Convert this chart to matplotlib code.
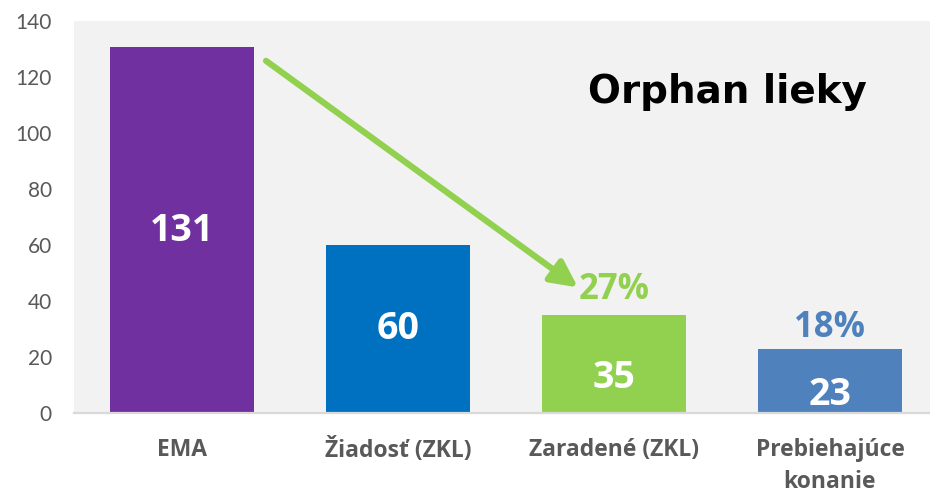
import matplotlib
matplotlib.use("Agg")
import matplotlib.pyplot as plt

# data
categories = ["EMA", "Žiadosť (ZKL)", "Zaradené (ZKL)", "Prebiehajúce\nkonanie"]
counts = [131, 60, 35, 23]
bar_colors = ["#7030A0", "#0070C0", "#92D050", "#4F81BD"]
yticks = [0, 20, 40, 60, 80, 100, 120, 140]
title_text = "Orphan lieky"

# share of the EMA total, shown above the last two bars
shares = [round(c / counts[0] * 100) for c in counts]

# where the in-bar value labels sit (data units) -- placed by hand in the original
value_label_y = [65, 30, 12.5, 6.5]

BOLD = "Open Sans"

fig = plt.figure(figsize=(9.3, 4.92), dpi=100)
ax = fig.add_axes([0.0796, 0.1596, 0.9204, 0.797])
ax.set_facecolor("#F2F2F2")

x = range(len(categories))
ax.bar(x, counts, width=0.667, color=bar_colors, zorder=2)

ax.set_xlim(-0.5, 3.463)
ax.set_ylim(0, 140)
ax.set_yticks(yticks)
ax.set_xticks(list(x))
ax.set_xticklabels(categories, fontfamily=BOLD, fontweight="bold",
                   fontsize=16.5, color="#595959", linespacing=1.4)
for lab in ax.get_yticklabels():
    lab.set_fontfamily("Lato")
    lab.set_fontsize(15)
    lab.set_color("#595959")
ax.tick_params(axis="y", length=0, pad=16)
ax.tick_params(axis="x", length=0, pad=18)

for s in ["top", "right", "left"]:
    ax.spines[s].set_visible(False)
ax.spines["bottom"].set_color("#D9D9D9")
ax.spines["bottom"].set_linewidth(1.6)
ax.spines["bottom"].set_zorder(3)

# values inside the bars
for i, c in enumerate(counts):
    ax.text(i, value_label_y[i], str(c), ha="center", va="center",
            fontfamily=BOLD, fontweight="bold", fontsize=27, color="white", zorder=4)

# percentages above the last two bars
pct_colors = ["#92D050", "#4F81BD"]
pct_y = [44, 30.4]
for k, i in enumerate([2, 3]):
    ax.text(i, pct_y[k], f"{shares[i]}%", ha="center", va="center",
            fontfamily=BOLD, fontweight="bold", fontsize=25, color=pct_colors[k], zorder=4)

# green arrow from EMA down to Zaradené
ax.annotate("", xy=(1.833, 45.0), xytext=(0.389, 125.9),
            arrowprops=dict(arrowstyle="-|>,head_length=1.6,head_width=0.8",
                            color="#92D050", lw=4.5, shrinkA=0, shrinkB=0),
            zorder=3)

ax.text(2.525, 111, title_text, ha="center", va="baseline",
        fontfamily="DejaVu Sans", fontweight="bold", fontsize=28, color="black")

fig.savefig("out.png", dpi=100)
